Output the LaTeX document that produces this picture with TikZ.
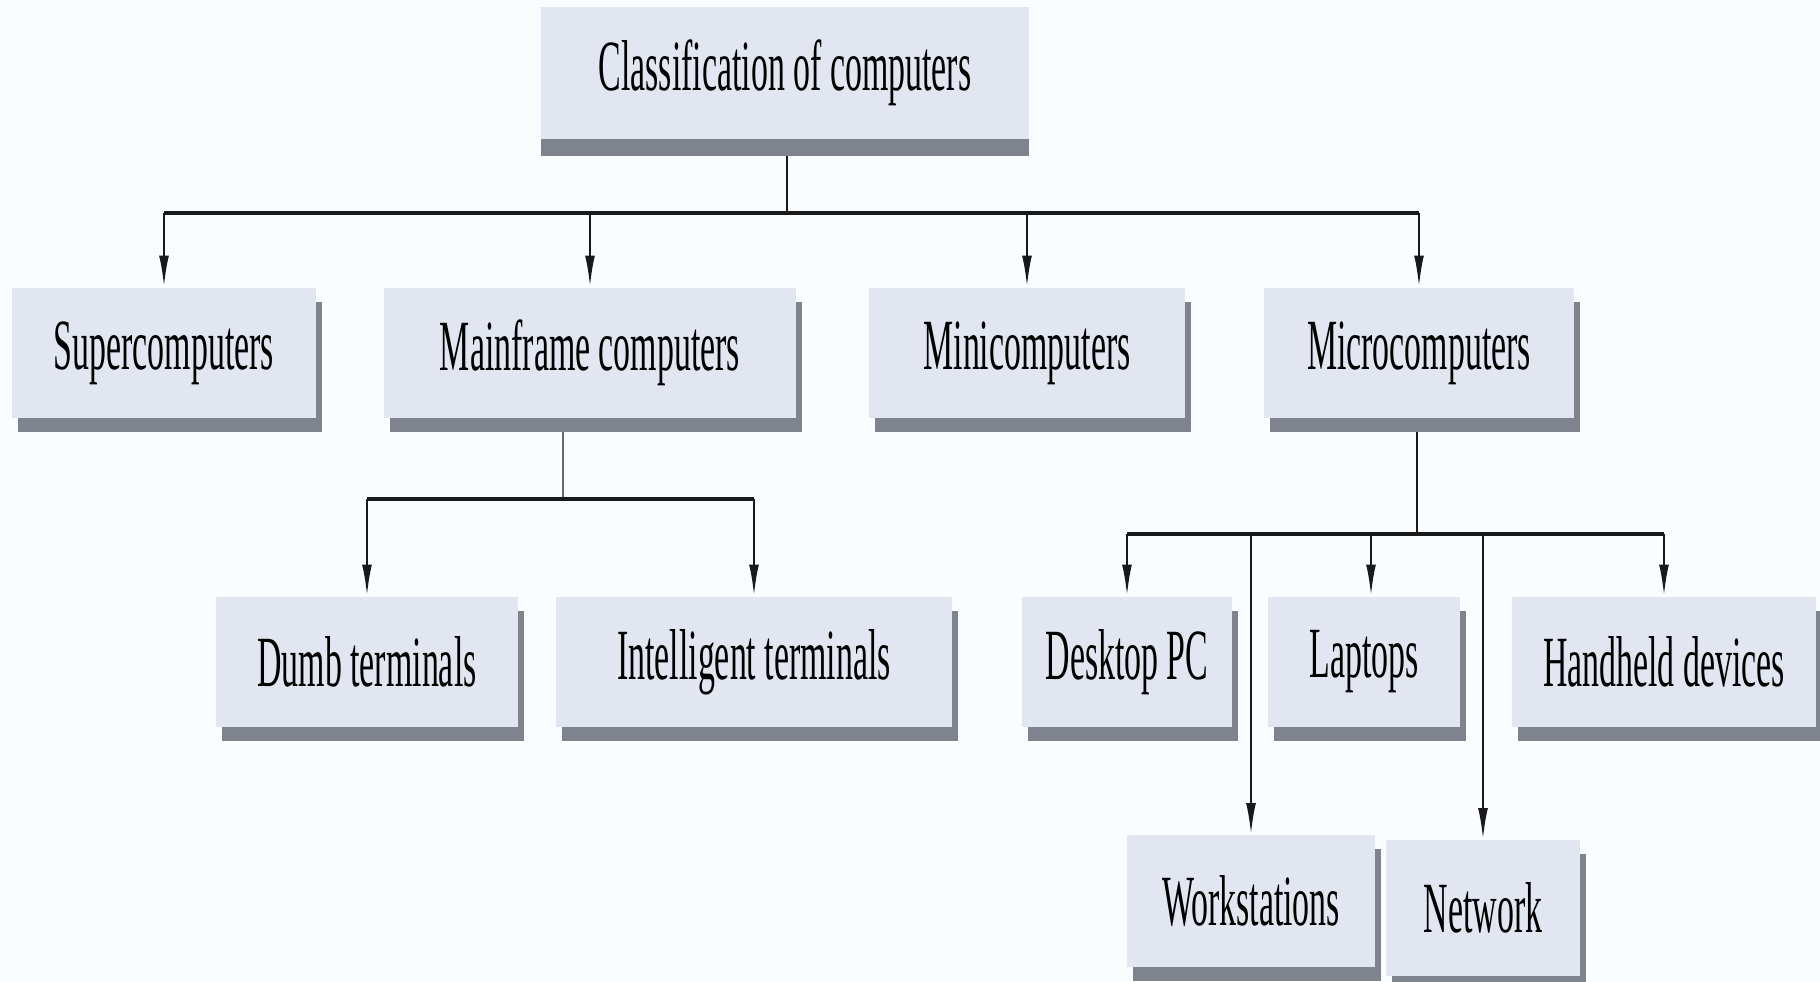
\documentclass[tikz,border=0pt]{standalone}
\usepackage{fontspec}
\newfontfamily\narrowfont{Liberation Serif}[FakeStretch=0.47]
\usetikzlibrary{arrows.meta,shadows,backgrounds}

\definecolor{pagebg}{RGB}{250,253,255}
\definecolor{boxface}{RGB}{225,230,240}
\definecolor{boxshadow}{RGB}{126,131,141}

\tikzset{
    plainbox/.style={fill=boxface, inner sep=0pt, minimum height=1.3cm,
        font=\narrowfont\fontsize{20.5}{24}\selectfont},
    box/.style={plainbox,
        drop shadow={shadow xshift=.06cm, shadow yshift=-.14cm, fill=boxshadow, opacity=1}},
    topbox/.style={plainbox,
        drop shadow={shadow xshift=0cm, shadow yshift=-.17cm, fill=boxshadow, opacity=1}},
    bus/.style={line width=1.1pt, black!90},
    link/.style={line width=.7pt, black!90},
    arrow/.style={link, -{Latex[length=9pt,width=2.8pt]}}
}

\begin{document}
\begin{tikzpicture}[x=0.01cm, y=-0.01cm]
            \useasboundingbox (0, 0) rectangle (1820, 982);

            \node[topbox, minimum width=4.87cm, minimum height=1.31cm] (root) at (785, 73) {Classification of computers};

            \node[box, minimum width=3.04cm] (super) at (164, 353) {Supercomputers};
            \node[box, minimum width=4.11cm] (main) at (590, 353) {Mainframe computers};
            \node[box, minimum width=3.16cm] (mini) at (1027, 353) {Minicomputers};
            \node[box, minimum width=3.10cm] (micro) at (1419, 353) {Microcomputers};

            \node[box, minimum width=3.02cm] (dumb) at (367, 662) {Dumb terminals};
            \node[box, minimum width=3.95cm] (intel) at (754, 662) {Intelligent terminals};

            \node[box, minimum width=2.09cm] (desk) at (1127, 662) {Desktop PC};
            \node[box, minimum width=1.92cm] (lap) at (1364, 662) {Laptops};
            \node[box, minimum width=3.04cm] (hand) at (1664, 662) {Handheld devices};
            \node[box, minimum width=2.48cm, minimum height=1.31cm] (work) at (1251, 901) {Workstations};
            \node[box, minimum width=1.93cm, minimum height=1.35cm] (net) at (1483, 908) {Network};

            \coordinate (top bus) at (787, 213);
            \coordinate (main bus) at (563, 499);
            \coordinate (micro bus) at (1417, 534);

            \begin{scope}[on background layer]
                \fill[pagebg] (0, 0) rectangle (1820, 982);

                % first level
                \draw[link] (root.south -| top bus) -- (top bus);
                \draw[bus] (super.north |- top bus) -- (micro.north |- top bus);
                \foreach \n in {super, main, mini, micro}
                    \draw[arrow] (\n.north |- top bus) -- (\n.north);

                % mainframe terminals
                \draw[link, black!60] (main.south -| main bus) -- (main bus);
                \draw[bus] (dumb.north |- main bus) -- (intel.north |- main bus);
                \foreach \n in {dumb, intel}
                    \draw[arrow] (\n.north |- main bus) -- (\n.north);

                % microcomputer kinds
                \draw[link] (micro.south -| micro bus) -- (micro bus);
                \draw[bus] (desk.north |- micro bus) -- (hand.north |- micro bus);
                \foreach \n in {desk, hand, work, net}
                    \draw[arrow] (\n.north |- micro bus) -- (\n.north);
                \draw[arrow] ([xshift=.07cm]lap.north |- micro bus) -- ([xshift=.07cm]lap.north);
            \end{scope}
        \end{tikzpicture}
\end{document}
